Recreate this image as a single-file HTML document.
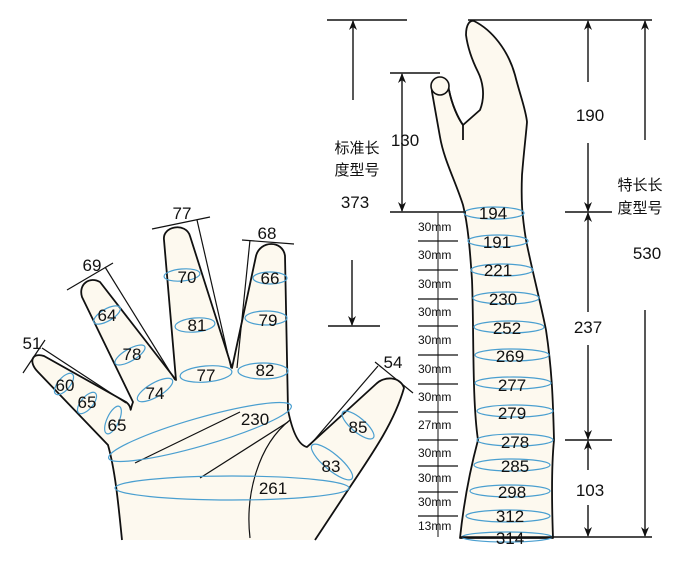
<!DOCTYPE html>
<html><head><meta charset="utf-8"><style>
body{margin:0;background:#fff}
svg{display:block}
text{font-family:"Liberation Sans","Noto Sans CJK SC",sans-serif;fill:#111}
</style></head><body>
<svg width="700" height="566" viewBox="0 0 700 566" xmlns="http://www.w3.org/2000/svg">
<defs>
<marker id="a" viewBox="0 0 10 10" refX="9" refY="5" markerWidth="13" markerHeight="10" orient="auto-start-reverse" markerUnits="userSpaceOnUse"><path d="M0,1 L10,5 L0,9 L3,5z" fill="#111"/></marker>
</defs>
<g stroke="#111" stroke-width="1.8" fill="#fdf9ef" stroke-linejoin="round">
<path d="M122,540 C118,500 115,470 108,445 L38,372 C28,362 32,352 44,356 L126,402 C134,408 128,416 133,402 L82,297 C78,284 90,276 100,282 L176,380 L164,240 C162,226 186,222 190,236 L232,368 L256,256 C260,240 283,240 285,256 L288,410 C292,430 298,445 307,447 L376,384 C384,376 400,376 404,388 C395,420 375,450 350,487 L315,540"/>
<path d="M460,538 C464,500 470,470 478,440 C472,400 474,330 472,280 C470,250 468,225 463,205 C455,180 444,160 440,137 L432,92 C430,78 448,78 449,90 C452,105 458,118 463,125 L480,110 C486,95 482,80 478,72 C473,62 468,50 466,35 C466,24 470,20 474,21 C492,30 508,50 515,75 C520,95 526,110 527,122 C526,135 524,150 522,175 C521,200 522,215 526,240 C532,270 540,300 546,330 C552,370 553,400 554,440 C551,470 552,510 553,538 Z"/>
<path d="M463,125 L463,140" fill="none"/>
<path d="M449,90 C452,105 458,118 463,125" fill="none"/>
</g>
<circle cx="440" cy="86" r="9" fill="#fdf9ef" stroke="#111" stroke-width="1.6"/>
<g stroke="#111" stroke-width="1.2" fill="none">
<line x1="135" y1="463" x2="240" y2="412"/>
<line x1="200" y1="478" x2="288" y2="422"/>
<path d="M250,538 C245,495 258,445 290,420"/>
<line x1="23" y1="373" x2="45" y2="340"/><line x1="42" y1="348" x2="126" y2="403"/>
<line x1="67" y1="290" x2="113" y2="263"/><line x1="105" y1="267" x2="175" y2="380"/>
<line x1="152" y1="229" x2="210" y2="217"/><line x1="197" y1="220" x2="231" y2="368"/>
<line x1="242" y1="240" x2="294" y2="244"/><line x1="250" y1="240" x2="237" y2="368"/>
<line x1="375" y1="362" x2="413" y2="393"/><line x1="378" y1="366" x2="310" y2="445"/>
</g>
<g stroke="#4a9fd0" stroke-width="1.2" fill="none">
<ellipse cx="232" cy="488" rx="117" ry="12"/>
<ellipse cx="200" cy="432" rx="95" ry="14" transform="rotate(-16 200 432)"/>
<ellipse cx="64" cy="384" rx="13" ry="6" transform="rotate(-50 64 384)"/>
<ellipse cx="87" cy="403" rx="13" ry="6" transform="rotate(-50 87 403)"/>
<ellipse cx="113" cy="420" rx="15" ry="6" transform="rotate(-65 113 420)"/>
<ellipse cx="107" cy="315" rx="15" ry="6" transform="rotate(-30 107 315)"/>
<ellipse cx="130" cy="355" rx="17" ry="6" transform="rotate(-30 130 355)"/>
<ellipse cx="155" cy="390" rx="20" ry="7" transform="rotate(-30 155 390)"/>
<ellipse cx="182" cy="275" rx="18" ry="6" transform="rotate(-5 182 275)"/>
<ellipse cx="195" cy="325" rx="20" ry="7" transform="rotate(-5 195 325)"/>
<ellipse cx="206" cy="374" rx="26" ry="8" transform="rotate(-5 206 374)"/>
<ellipse cx="270" cy="278" rx="17" ry="6"/>
<ellipse cx="266" cy="318" rx="21" ry="7"/>
<ellipse cx="263" cy="371" rx="25" ry="8"/>
<ellipse cx="332" cy="462" rx="26" ry="8" transform="rotate(40 332 462)"/>
<ellipse cx="358" cy="425" rx="20" ry="7" transform="rotate(40 358 425)"/>
<ellipse cx="494" cy="213" rx="30" ry="6"/>
<ellipse cx="498" cy="241" rx="30" ry="6"/>
<ellipse cx="502" cy="270" rx="31" ry="6"/>
<ellipse cx="506" cy="298" rx="33" ry="6"/>
<ellipse cx="509" cy="327" rx="35" ry="6"/>
<ellipse cx="512" cy="355" rx="37" ry="6"/>
<ellipse cx="513" cy="383" rx="38" ry="6"/>
<ellipse cx="515" cy="411" rx="38" ry="6"/>
<ellipse cx="515" cy="440" rx="38" ry="6"/>
<ellipse cx="512" cy="465" rx="38" ry="6"/>
<ellipse cx="510" cy="491" rx="40" ry="6"/>
<ellipse cx="508" cy="516" rx="42" ry="6"/>
<ellipse cx="507" cy="537" rx="45" ry="5"/>
</g>
<g stroke="#111" stroke-width="1.4" fill="none">
<line x1="327" y1="20" x2="407" y2="20"/>
<line x1="353" y1="100" x2="353" y2="21" marker-end="url(#a)"/>
<line x1="352" y1="260" x2="352" y2="325" marker-end="url(#a)"/>
<line x1="328" y1="326" x2="380" y2="326"/>
<line x1="390" y1="73" x2="440" y2="73"/>
<line x1="390" y1="212" x2="466" y2="212"/>
<line x1="402" y1="74" x2="402" y2="211" marker-start="url(#a)" marker-end="url(#a)"/>
<line x1="468" y1="20" x2="652" y2="20"/>
<line x1="588" y1="82" x2="588" y2="21" marker-end="url(#a)"/>
<line x1="588" y1="143" x2="588" y2="211" marker-end="url(#a)"/>
<line x1="565" y1="212" x2="612" y2="212"/>
<line x1="588" y1="312" x2="588" y2="213" marker-end="url(#a)"/>
<line x1="588" y1="345" x2="588" y2="439" marker-end="url(#a)"/>
<line x1="565" y1="440" x2="612" y2="440"/>
<line x1="588" y1="470" x2="588" y2="441" marker-end="url(#a)"/>
<line x1="588" y1="505" x2="588" y2="536" marker-end="url(#a)"/>
<line x1="460" y1="537" x2="652" y2="537"/>
<line x1="645" y1="140" x2="645" y2="21" marker-end="url(#a)"/>
<line x1="645" y1="310" x2="645" y2="536" marker-end="url(#a)"/>
<line x1="438" y1="213" x2="438" y2="537" stroke-width="1"/>
<g stroke-width="1.3">
<line x1="418" y1="241" x2="458" y2="241"/><line x1="418" y1="270" x2="458" y2="270"/>
<line x1="418" y1="299" x2="458" y2="299"/><line x1="418" y1="326" x2="458" y2="326"/>
<line x1="418" y1="355" x2="458" y2="355"/><line x1="418" y1="384" x2="458" y2="384"/>
<line x1="418" y1="412" x2="458" y2="412"/><line x1="418" y1="440" x2="458" y2="440"/>
<line x1="418" y1="466" x2="458" y2="466"/><line x1="418" y1="492" x2="458" y2="492"/>
<line x1="418" y1="516" x2="458" y2="516"/>
</g>
</g>
<g font-size="12">
<text x="418" y="231">30mm</text><text x="418" y="259">30mm</text><text x="418" y="288">30mm</text>
<text x="418" y="316">30mm</text><text x="418" y="344">30mm</text><text x="418" y="373">30mm</text>
<text x="418" y="401">30mm</text><text x="418" y="429">27mm</text><text x="418" y="457">30mm</text>
<text x="418" y="482">30mm</text><text x="418" y="506">30mm</text><text x="418" y="530">13mm</text>
</g>
<g font-size="17" text-anchor="middle">
<text x="32" y="349">51</text><text x="65" y="391">60</text><text x="87" y="408">65</text><text x="117" y="431">65</text>
<text x="92" y="271">69</text><text x="107" y="321">64</text><text x="132" y="360">78</text><text x="155" y="399">74</text>
<text x="182" y="219">77</text><text x="187" y="283">70</text><text x="197" y="331">81</text><text x="206" y="381">77</text>
<text x="267" y="239">68</text><text x="270" y="284">66</text><text x="268" y="326">79</text><text x="265" y="376">82</text>
<text x="255" y="425">230</text><text x="273" y="494">261</text><text x="331" y="472">83</text><text x="358" y="433">85</text><text x="393" y="368">54</text>
<text x="405" y="146">130</text><text x="355" y="208">373</text>
<text x="493" y="219">194</text><text x="497" y="248">191</text><text x="498" y="276">221</text><text x="503" y="305">230</text>
<text x="507" y="334">252</text><text x="510" y="362">269</text><text x="512" y="391">277</text><text x="512" y="419">279</text>
<text x="515" y="448">278</text><text x="515" y="472">285</text><text x="512" y="498">298</text><text x="510" y="522">312</text><text x="510" y="544">314</text>
<text x="590" y="121">190</text><text x="588" y="333">237</text><text x="590" y="496">103</text><text x="647" y="259">530</text>
</g>
<g font-size="15" text-anchor="middle">
<text x="357" y="153">标准长</text><text x="357" y="175">度型号</text>
<text x="640" y="190">特长长</text><text x="640" y="213">度型号</text>
</g>
</svg>
</body></html>
